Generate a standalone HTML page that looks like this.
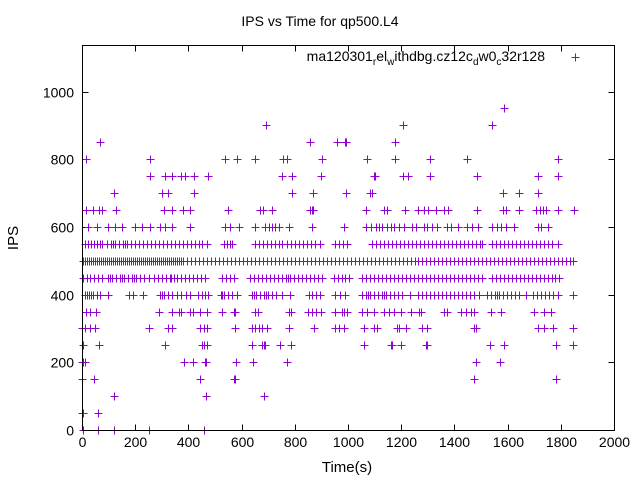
<!DOCTYPE html>
<html><head><meta charset="utf-8"><style>
html,body{margin:0;padding:0;background:#fff;width:640px;height:480px;overflow:hidden}
text{font-family:"Liberation Sans",sans-serif;fill:#000}
</style></head><body>
<svg id="chart" width="640" height="480" viewBox="0 0 640 480" xmlns="http://www.w3.org/2000/svg">
<text x="320" y="26" font-size="14" text-anchor="middle">IPS vs Time for qp500.L4</text>
<text transform="translate(18,238) rotate(-90)" font-size="15" text-anchor="middle">IPS</text>
<text x="347" y="472" font-size="15" text-anchor="middle">Time(s)</text>
<g id="grid" shape-rendering="crispEdges"></g>
<g id="marks" shape-rendering="crispEdges"></g>
<rect x="82.5" y="45.5" width="532" height="385" fill="none" stroke="#000" stroke-width="1" shape-rendering="crispEdges"/>
<g>
<text x="545" y="61" font-size="14" text-anchor="end">ma120301<tspan font-size="10" dy="4">r</tspan><tspan dy="-4">el</tspan><tspan font-size="10" dy="4">w</tspan><tspan dy="-4">ithdbg.cz12c</tspan><tspan font-size="10" dy="4">d</tspan><tspan dy="-4">w0</tspan><tspan font-size="10" dy="4">c</tspan><tspan dy="-4">32r128</tspan></text>
<path d="M571.5,57.5h8M575.5,53.5v8" stroke="#9400d3" stroke-width="1" shape-rendering="crispEdges"/>
</g>
</svg>
<script>
const xTicks=[0,200,400,600,800,1000,1200,1400,1600,1800,2000];
const yTicks=[0,200,400,600,800,1000];
const levels=[0,50,100,150,200,250,300,350,400,450,500,550,600,650,700,750,800,850,900,950];
const t0=[5,60,120,250,460];
const t50=[0,5,61];
const t100=[122,467,683];
const t150=[1,46,444,570,574,1474,1782];
const t200=[0,5,11,382,416,461,466,579,641,771,1480,1572];
const t250=[5,64,313,451,457,470,639,677,683,689,746,787,1060,1160,1166,1198,1292,1298,1533,1587,1782,1844];
const t300=[0,11,30,49,252,323,338,444,457,470,574,639,652,664,677,695,777,871,953,966,984,1060,1097,1110,1185,1192,1217,1279,1298,1474,1480,1713,1738,1769,1844];
const t350=[14,30,52,288,338,363,373,407,419,444,470,526,570,574,652,662,777,787,850,863,878,897,953,978,984,997,1053,1072,1097,1135,1154,1173,1198,1235,1267,1273,1361,1374,1424,1443,1461,1474,1537,1574,1700,1738,1763];
const t400=[12,20,25,32,40,55,68,99,175,193,231,294,301,310,325,339,357,372,390,407,437,450,463,475,521,528,535,550,565,583,640,648,655,670,685,692,700,715,730,752,783,852,866,880,896,953,970,990,1053,1068,1075,1083,1098,1113,1128,1136,1143,1158,1173,1188,1203,1233,1263,1278,1293,1308,1323,1338,1353,1368,1383,1398,1413,1428,1443,1458,1473,1493,1524,1539,1554,1562,1569,1584,1599,1614,1629,1644,1669,1694,1710,1725,1740,1755,1770,1789,1845];
const t450=[5,18,30,45,60,74,99,107,114,129,144,151,159,174,189,196,204,219,234,250,269,284,299,314,329,336,344,359,374,389,404,419,434,449,463,527,540,555,570,633,648,663,678,693,708,723,738,753,768,776,783,798,813,828,843,858,873,888,903,947,962,977,990,1003,1053,1068,1083,1098,1113,1128,1143,1158,1173,1188,1203,1218,1233,1248,1263,1278,1293,1308,1323,1338,1353,1368,1383,1398,1413,1428,1443,1458,1473,1488,1505,1543,1558,1573,1588,1603,1618,1633,1648,1663,1678,1693,1708,1723,1738,1753,1768,1780,1794];
const t500=[5,12,20,27,35,42,50,57,65,72,80,87,95,102,110,117,125,132,140,147,155,162,170,177,185,192,200,207,215,222,230,237,245,252,260,267,275,282,290,297,305,312,320,327,335,342,350,357,365,372,380,395,410,425,440,455,470,485,500,515,530,545,560,575,590,605,620,635,650,665,680,695,710,725,740,755,770,785,800,815,830,845,860,875,890,905,920,935,950,965,980,995,1010,1025,1040,1055,1070,1085,1100,1115,1130,1145,1160,1175,1190,1205,1220,1235,1250,1265,1280,1295,1310,1325,1340,1355,1370,1385,1400,1415,1430,1445,1460,1475,1490,1505,1520,1535,1550,1565,1580,1595,1610,1625,1640,1655,1670,1685,1700,1715,1730,1745,1760,1775,1790,1805,1820,1835,1845];
const t550=[11,22,33,45,56,68,74,93,108,116,123,138,153,161,168,183,198,213,228,243,258,273,288,303,318,333,348,363,378,393,408,423,438,453,470,532,545,558,564,652,667,682,697,712,727,740,752,771,786,801,816,831,846,861,876,896,953,968,980,996,1091,1106,1121,1136,1151,1166,1181,1196,1211,1226,1241,1256,1271,1286,1301,1316,1331,1346,1361,1376,1391,1406,1421,1436,1451,1466,1481,1496,1505,1543,1558,1573,1588,1603,1618,1633,1648,1663,1678,1693,1708,1723,1738,1753,1768,1788];
const t600=[21,55,97,124,150,200,225,256,294,313,339,407,539,558,589,652,689,702,715,727,740,777,863,984,1066,1085,1104,1116,1129,1147,1160,1173,1192,1211,1242,1254,1286,1298,1317,1336,1374,1387,1412,1449,1468,1487,1543,1562,1575,1594,1625,1713,1726,1751];
const t650=[15,41,64,75,128,309,339,380,407,550,670,681,716,859,865,870,1066,1134,1146,1213,1265,1285,1302,1330,1362,1375,1484,1582,1594,1642,1707,1720,1732,1745,1789,1850];
const t700=[121,301,324,422,791,867,994,1081,1090,1582,1642,1713];
const t750=[256,313,339,373,388,422,475,753,791,900,1096,1102,1205,1224,1307,1484,1714,1789];
const t800=[14,256,539,583,652,754,771,903,1070,1175,1308,1446,1788];
const t850=[68,859,959,990,994,1175];
const t900=[690,1207,1543];
const t950=[1587];
const seriesTimes=[t0,t50,t100,t150,t200,t250,t300,t350,t400,t450,t500,t550,t600,t650,t700,t750,t800,t850,t900,t950];

const NS='http://www.w3.org/2000/svg';
const X0=82.5,X1=614.5,Y0=430.5,Y1000=92;
function xs(v){return X0+(X1-X0)*v/2000;}
function ys(v){return Y0-(Y0-Y1000)*v/1000;}
const grid=document.getElementById('grid');
const marks=document.getElementById('marks');
xTicks.forEach(function(v){
  const x=Math.round(xs(v)-0.5)+0.5;
  const p=document.createElementNS(NS,'path');
  p.setAttribute('d','M'+x+','+Y0+'v-6M'+x+',45.5v6');
  p.setAttribute('stroke','#000');
  
  
  grid.appendChild(p);
  const t=document.createElementNS(NS,'text');
  t.setAttribute('x',x);t.setAttribute('y',447);t.setAttribute('font-size','14');t.setAttribute('text-anchor','middle');
  t.textContent=v;
  
  
  grid.appendChild(t);
});
yTicks.forEach(function(v){
  const y=Math.round(ys(v)-0.5)+0.5;
  const p=document.createElementNS(NS,'path');
  p.setAttribute('d','M'+X0+','+y+'h6M'+X1+','+y+'h-6');
  p.setAttribute('stroke','#000');
  
  
  grid.appendChild(p);
  const t=document.createElementNS(NS,'text');
  t.setAttribute('x',74);t.setAttribute('y',y+5);t.setAttribute('font-size','14');t.setAttribute('text-anchor','end');
  t.textContent=v;
  
  
  grid.appendChild(t);
});
let d='';
levels.forEach(function(lv,i){
  seriesTimes[i].forEach(function(tm){
    const x=Math.round(xs(tm)-0.5)+0.5,y=Math.round(ys(lv)-0.5)+0.5;
    d+='M'+(x-4)+','+y+'h8M'+x+','+(y-4)+'v8';
  });
});
const pts=document.createElementNS(NS,'path');
pts.setAttribute('d',d);
pts.setAttribute('stroke','#9400d3');
pts.setAttribute('stroke-width','1');
pts.setAttribute('fill','none');


marks.appendChild(pts);
</script>
</body></html>
